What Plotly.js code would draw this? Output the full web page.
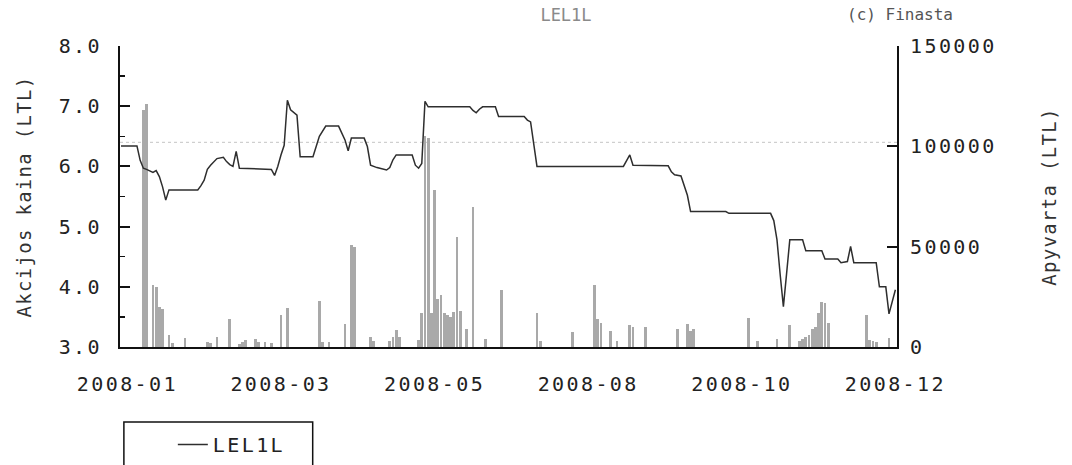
<!DOCTYPE html>
<html><head><meta charset="utf-8">
<script src="https://cdn.plot.ly/plotly-3.0.1.min.js"></script>
<style>
html,body{margin:0;padding:0;background:#fff;}
.xtick text, .ytick text, .y2tick text, text.legendtext { letter-spacing: 2.4px; }
text.ytitle, text.y2title { letter-spacing: 1.3px; }
</style>
</head><body>
<div id="chart" style="width:1072px;height:465px;"></div>
<script>
// x axis: trading-day index, labelled by month
const tickDays = [2, 50, 98, 146, 194, 242];
const tickLabels = ['2008-01', '2008-03', '2008-05', '2008-08', '2008-10', '2008-12'];

// share price (LTL), vertices of the price line
const priceDay = [0,5,6,7,8,9,10,11,12,13,14,15,24,25,26,27,28,30,32,33,34,35,36,37,47,48,49,50,51,52,53,55,56,60,61,62,64,68,70,71,72,76,77,78,80,83,84,85,86,91,92,93,94,95,96,109,110,111,112,113,117,118,126,127,128,129,130,157,158,159,160,171,172,173,175,176,177,178,189,190,203,204,205,206,207,208,209,213,214,219,220,224,225,227,228,229,236,237,239,240,241,242];
const price = [6.34,6.34,6.10,5.97,5.95,5.92,5.90,5.93,5.83,5.66,5.44,5.61,5.61,5.68,5.77,5.95,6.02,6.13,6.15,6.08,6.03,6.0,6.25,5.97,5.95,5.85,6.0,6.19,6.35,7.10,6.94,6.85,6.16,6.16,6.33,6.5,6.67,6.67,6.44,6.26,6.47,6.47,6.33,6.02,5.98,5.94,5.98,6.11,6.19,6.19,6.02,5.97,6.05,7.08,6.99,6.99,6.93,6.89,6.95,6.99,6.99,6.83,6.83,6.77,6.74,6.33,6.0,6.0,6.1,6.19,6.02,6.01,5.91,5.86,5.84,5.66,5.52,5.25,5.25,5.22,5.22,5.1,4.78,4.2,3.67,4.22,4.78,4.78,4.6,4.6,4.46,4.46,4.40,4.42,4.67,4.40,4.40,4.0,4.0,3.55,3.75,3.95];

// turnover (LTL) per trading day
const volDay = [7,8,10,11,12,13,15,16,20,27,28,30,34,37,38,39,42,43,45,47,50,52,62,63,65,70,72,73,78,79,84,85,86,87,93,94,95,96,97,98,99,100,101,102,103,104,105,106,108,110,114,119,130,131,141,148,149,150,153,155,159,160,164,174,177,178,179,196,199,205,209,212,213,214,215,216,217,218,219,220,221,233,234,235,236,240];
const volume = [118000,121000,31000,30000,20000,19000,6000,2000,4500,2500,2000,5000,14000,1500,2500,3500,3800,2500,2500,1800,16000,19500,23000,2500,2500,11500,51000,50000,5000,3000,3000,5000,8500,5000,3500,17000,105000,104000,17000,78000,24000,26000,17000,16000,15000,17500,55000,18000,9000,70000,4000,28400,17000,3000,7500,31000,14000,12000,8000,3000,11000,10000,10000,9000,11500,8000,9000,14400,3000,4000,11000,3000,4000,5000,6000,9000,10000,17000,22500,22000,12000,16000,3500,3000,2500,4500];

// reference price level (dotted line)
const refLevel = 6.4;

const traces = [
  {type:'bar', x:volDay, y:volume, yaxis:'y', width:0.9,
   marker:{color:'#a9a9a9', line:{width:0}}, showlegend:false, hoverinfo:'skip'},
  {type:'scatter', mode:'lines', name:'LEL1L', x:priceDay, y:price, yaxis:'y2',
   line:{color:'#2e2e2e', width:1.5}}
];

const axisCol = '#111';
const layout = {
  width:1072, height:465,
  margin:{l:120, r:175, t:46, b:118, pad:0, autoexpand:false},
  paper_bgcolor:'#ffffff', plot_bgcolor:'#ffffff',
  font:{family:'DejaVu Sans Mono', size:20, color:'#222'},
  title:{text:'LEL1L', xref:'paper', x:0.574, xanchor:'center', yref:'container', y:0.968, yanchor:'middle',
         font:{family:'DejaVu Sans Mono', size:17, color:'#8a8a8a'}},
  showlegend:true,
  legend:{x:0.068, xanchor:'left', y:-0.259, yanchor:'top', bgcolor:'rgba(0,0,0,0)',
          borderwidth:0, font:{size:20, color:'#222'}},
  bargap:0,
  xaxis:{range:[-0.3,242.5], showline:true, linecolor:axisCol, linewidth:2, ticks:'',
         tickmode:'array', tickvals:tickDays, ticktext:tickLabels, showgrid:false, zeroline:false,
         ticklabelstandoff:18, tickfont:{size:20, color:'#222'}},
  yaxis:{side:'right', range:[0,150000], tickmode:'linear', tick0:0, dtick:50000, tickformat:'d',
         ticks:'inside', ticklen:10, tickwidth:2, tickcolor:axisCol, showline:true, linecolor:axisCol,
         linewidth:2, showgrid:false, zeroline:false, ticklabelstandoff:7,
         title:{text:'Apyvarta (LTL)', standoff:47, font:{size:19, color:'#333'}}},
  yaxis2:{overlaying:'y', side:'left', range:[3,8], tickmode:'linear', tick0:3, dtick:1, tickformat:'.1f',
          ticks:'inside', ticklen:10, tickwidth:2, tickcolor:axisCol, showline:true, linecolor:axisCol,
          linewidth:2, showgrid:false, zeroline:false, ticklabelstandoff:12,
          minor:{dtick:0.5, tick0:3, ticks:'inside', ticklen:5, tickwidth:1.5, tickcolor:axisCol, showgrid:false},
          title:{text:'Akcijos kaina (LTL)', standoff:22, font:{size:19, color:'#333'}}},
  shapes:[
    {type:'line', xref:'paper', x0:0, x1:1, yref:'y2', y0:refLevel, y1:refLevel, layer:'below',
     line:{color:'#c4c4c4', width:1, dash:'dot'}},
    {type:'rect', xref:'paper', yref:'paper', x0:0.005, x1:0.248, y0:-0.249, y1:-0.52,
     line:{color:'#111', width:1.5}, fillcolor:'rgba(0,0,0,0)'}
  ],
  annotations:[
    {text:'(c) Finasta', xref:'paper', yref:'paper', x:1.0746, y:1.106, xanchor:'right', yanchor:'middle',
     showarrow:false, font:{family:'DejaVu Sans Mono', size:16, color:'#555'}}
  ]
};

Plotly.newPlot('chart', traces, layout, {displayModeBar:false, staticPlot:true});
</script>
</body></html>
